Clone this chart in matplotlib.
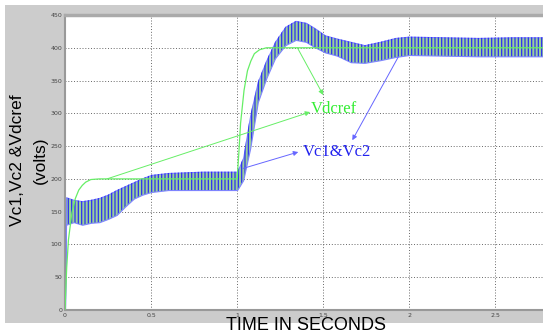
import matplotlib
matplotlib.use("Agg")
import matplotlib.pyplot as plt
from matplotlib.patches import Rectangle

# ---- data ----
# Vc1 & Vc2 ripple envelope (time, lower, upper)
t_env = [0, 0.006, 0.05, 0.1, 0.15, 0.2, 0.25, 0.3, 0.35, 0.4, 0.45, 0.5, 0.6, 0.7, 0.8,
         0.9, 1.0, 1.035, 1.076, 1.12, 1.17, 1.22, 1.28, 1.34, 1.40, 1.45, 1.51, 1.58,
         1.66, 1.74, 1.83, 1.92, 2.0, 2.2, 2.4, 2.6, 2.8]
v_hi = [0, 172, 168, 166, 168, 171, 176, 183, 189, 195, 201, 206, 209, 210, 211,
        211, 211, 232, 297, 348, 381, 409, 432, 441, 438, 430, 419, 414,
        409, 404, 409, 415, 417, 416, 415, 416, 416]
v_lo = [0, 130, 134, 130, 133, 134, 139, 145, 158, 170, 176, 180, 183, 183, 183,
        183, 183, 198, 247, 317, 354, 384, 404, 412, 409, 401, 393, 388,
        378, 377, 381, 386, 389, 388, 387, 387, 387]

# Vdcref
t_ref = [0, 0.01, 0.02, 0.04, 0.06, 0.08, 0.1, 0.12, 0.15, 0.2, 1.0, 1.01, 1.02,
         1.04, 1.06, 1.08, 1.1, 1.13, 1.17, 2.8]
v_ref = [0, 65, 107, 148, 170, 183, 190, 195, 199, 200, 200, 240, 285,
         335, 365, 380, 391, 397, 400, 400]

x_ticks = [0, 0.5, 1, 1.5, 2, 2.5]
x_ticklabels = ["0", "0.5", "1", "1.5", "2", "2.5"]
y_ticks = [0, 50, 100, 150, 200, 250, 300, 350, 400, 450]

plt.rcParams["hatch.linewidth"] = 0.9

W, H = 543, 333
fig = plt.figure(figsize=(W / 100, H / 100), dpi=100, facecolor="white")
fig.patches.append(Rectangle((5 / W, 10 / H), 538 / W, 318 / H, transform=fig.transFigure,
                             facecolor="#cccccc", edgecolor="none", zorder=-10))

ax = fig.add_axes([65 / W, (H - 310) / H, (547 - 65) / W, (310 - 15) / H])
ax.set_zorder(2)
ax.set_facecolor("white")
ax.set_xlim(0, 2.8)
ax.set_ylim(0, 450)

# ripple band
ax.fill_between(t_env, v_lo, v_hi, facecolor="#98cf9c", edgecolor="#7f85ff", lw=0.8, zorder=2)
ax.fill_between(t_env, v_lo, v_hi, facecolor="none", edgecolor="#3030f0", hatch="|||||",
                lw=0, zorder=3)

# reference
ax.plot(t_ref, v_ref, color="#66ee66", lw=0.9, zorder=4)

# grid
ax.set_xticks(x_ticks)
ax.set_xticklabels(x_ticklabels)
ax.set_yticks(y_ticks)
ax.grid(True, color="#555555", linestyle=(0, (1.2, 2.2)), lw=0.6, zorder=1)
ax.set_axisbelow(True)
ax.tick_params(labelsize=4.5, labelcolor="#444444", length=0, pad=2)
for s in ["left", "bottom"]:
    ax.spines[s].set_color("#999999")
    ax.spines[s].set_linewidth(1.5)
ax.spines["top"].set_color("#aaaaaa")
ax.spines["top"].set_linewidth(2.5)
ax.spines["right"].set_visible(False)

# annotations
gcol = "#33ee33"
bcol = "#2222ee"
akw = dict(arrowstyle="-|>", mutation_scale=7, lw=0.7, shrinkA=0, shrinkB=0)
ax.annotate("", xy=(1.50, 328), xytext=(1.35, 400),
            arrowprops=dict(color="#66ee66", **akw), zorder=5)
ax.annotate("", xy=(1.424, 302), xytext=(0.244, 200),
            arrowprops=dict(color="#66ee66", **akw), zorder=5)
ax.annotate("", xy=(1.355, 241), xytext=(1.035, 216),
            arrowprops=dict(color="#6666ff", **akw), zorder=5)
ax.annotate("", xy=(1.669, 259), xytext=(1.936, 386),
            arrowprops=dict(color="#6666ff", **akw), zorder=5)
ax.text(1.43, 300, "Vdcref", color=gcol, fontsize=12, family="Liberation Serif",
        ha="left", va="baseline", zorder=6)
ax.text(1.38, 235, "Vc1&Vc2", color=bcol, fontsize=12, family="Liberation Serif",
        ha="left", va="baseline", zorder=6)

# axis labels
fig.text(17 / W, 1 - 160 / H, "Vc1,Vc2 &Vdcref", rotation=90, ha="center", va="center",
         fontsize=12.5, family="Liberation Sans", color="black")
fig.text(40 / W, 1 - 160 / H, "(volts)", rotation=90, ha="center", va="center",
         fontsize=12.5, family="Liberation Sans", color="black")
fig.text(306 / W, 1 - 317 / H, "TIME IN SECONDS", ha="center", va="top",
         fontsize=13, family="Liberation Sans", color="black")

fig.savefig("out.png", dpi=100, facecolor="white")
